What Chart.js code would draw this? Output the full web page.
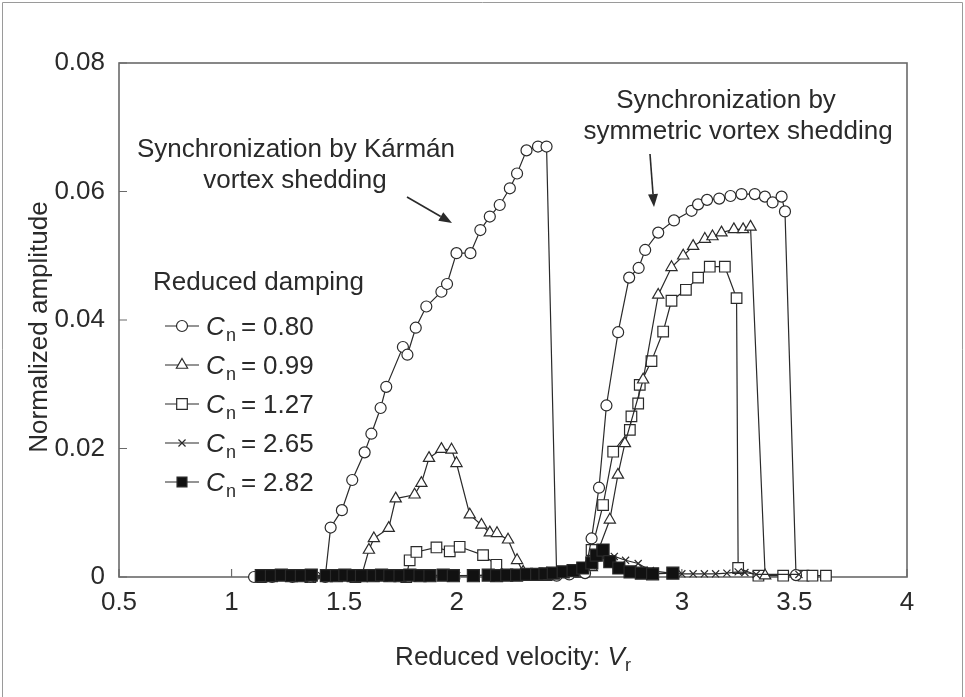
<!DOCTYPE html>
<html>
<head>
<meta charset="utf-8">
<script src="https://cdn.jsdelivr.net/npm/chart.js@4.4.1/dist/chart.umd.min.js"></script>
<style>
  html, body { margin: 0; padding: 0; background: #fff; }
  #wrap { width: 965px; height: 697px; position: relative; }
</style>
</head>
<body>
<div id="wrap"><canvas id="chart" width="965" height="697"></canvas></div>
<script>
// tick labels
const xTicks = [0.5, 1, 1.5, 2, 2.5, 3, 3.5, 4];
const yTicks = [0, 0.02, 0.04, 0.06, 0.08];

// Cn = 0.80 (open circles)
const cn080X = [1.10, 1.18, 1.27, 1.35, 1.416, 1.44, 1.49, 1.536, 1.591, 1.621, 1.662, 1.687, 1.761, 1.781, 1.818, 1.865, 1.932, 1.957, 1.999, 2.061, 2.105, 2.147, 2.191, 2.236, 2.268, 2.310, 2.361, 2.399, 2.444, 2.50, 2.57, 2.599, 2.632, 2.665, 2.717, 2.766, 2.808, 2.837, 2.895, 2.965, 3.043, 3.072, 3.112, 3.166, 3.216, 3.265, 3.324, 3.369, 3.403, 3.443, 3.458, 3.507];
const cn080Y = [0, 0, 0, 0, 0, 0.0077, 0.0104, 0.0151, 0.0194, 0.0223, 0.0263, 0.0296, 0.0358, 0.0346, 0.0388, 0.0421, 0.0444, 0.0456, 0.0504, 0.0504, 0.0540, 0.0561, 0.0579, 0.0605, 0.0628, 0.0664, 0.0670, 0.0670, 0.0002, 0.0004, 0.0006, 0.0060, 0.0139, 0.0267, 0.0381, 0.0466, 0.0481, 0.0509, 0.0536, 0.0555, 0.0570, 0.0580, 0.0587, 0.0589, 0.0593, 0.0596, 0.0596, 0.0592, 0.0583, 0.0592, 0.0569, 0.0003];

// Cn = 0.99 (open triangles)
const cn099X = [1.15, 1.30, 1.45, 1.576, 1.610, 1.632, 1.698, 1.729, 1.813, 1.843, 1.877, 1.932, 1.977, 1.999, 2.058, 2.110, 2.147, 2.179, 2.228, 2.268, 2.295, 2.40, 2.50, 2.60, 2.680, 2.716, 2.747, 2.828, 2.895, 2.954, 3.006, 3.050, 3.102, 3.136, 3.176, 3.231, 3.272, 3.305, 3.370];
const cn099Y = [0, 0, 0, 0, 0.0042, 0.0060, 0.0076, 0.0122, 0.0128, 0.0146, 0.0185, 0.0199, 0.0198, 0.0177, 0.0097, 0.0081, 0.0069, 0.0068, 0.0058, 0.0026, 0.0008, 0.0005, 0.0008, 0.0015, 0.0089, 0.0159, 0.0208, 0.0307, 0.0439, 0.0482, 0.0500, 0.0515, 0.0526, 0.0530, 0.0536, 0.0541, 0.0541, 0.0545, 0.0002];

// Cn = 1.27 (open squares)
const cn127X = [1.13, 1.35, 1.55, 1.776, 1.791, 1.821, 1.910, 1.969, 2.013, 2.117, 2.176, 2.24, 2.40, 2.55, 2.599, 2.650, 2.695, 2.769, 2.776, 2.806, 2.813, 2.865, 2.917, 2.954, 3.018, 3.072, 3.124, 3.191, 3.243, 3.250, 3.340, 3.450, 3.540, 3.580, 3.640];
const cn127Y = [0, 0, 0, 0, 0.0026, 0.0039, 0.0046, 0.0040, 0.0047, 0.0034, 0.0019, 0.0003, 0.0003, 0.0008, 0.0042, 0.0112, 0.0195, 0.0229, 0.0250, 0.0270, 0.0299, 0.0336, 0.0382, 0.0430, 0.0447, 0.0466, 0.0483, 0.0483, 0.0434, 0.0014, 0.0002, 0.0002, 0.0002, 0.0002, 0.0002];

// Cn = 2.65 (crosses)
const cn265X = [1.14, 1.40, 1.70, 2.00, 2.30, 2.50, 2.60, 2.65, 2.70, 2.75, 2.806, 2.86, 2.95, 3.00, 3.05, 3.10, 3.15, 3.20, 3.25, 3.28, 3.33, 3.52];
const cn265Y = [0.0002, 0.0002, 0.0002, 0.0002, 0.0003, 0.0010, 0.0018, 0.0030, 0.0032, 0.0026, 0.0021, 0.0010, 0.0006, 0.0005, 0.0005, 0.0005, 0.0005, 0.0006, 0.0008, 0.0007, 0.0004, 0.0004];

// Cn = 2.82 (filled squares)
const cn282X = [1.132, 1.177, 1.221, 1.266, 1.310, 1.354, 1.421, 1.466, 1.503, 1.540, 1.577, 1.629, 1.666, 1.703, 1.748, 1.792, 1.837, 1.881, 1.940, 1.985, 2.074, 2.140, 2.177, 2.222, 2.266, 2.310, 2.355, 2.392, 2.429, 2.473, 2.517, 2.56, 2.60, 2.62, 2.65, 2.68, 2.72, 2.77, 2.82, 2.87, 2.96];
const cn282Y = [0.0002, 0.0002, 0.0003, 0.0002, 0.0002, 0.0003, 0.0002, 0.0002, 0.0003, 0.0002, 0.0002, 0.0002, 0.0003, 0.0002, 0.0002, 0.0003, 0.0002, 0.0002, 0.0003, 0.0002, 0.0002, 0.0003, 0.0002, 0.0003, 0.0003, 0.0004, 0.0004, 0.0005, 0.0006, 0.0008, 0.0010, 0.0014, 0.0022, 0.0034, 0.0042, 0.0024, 0.0014, 0.0008, 0.0006, 0.0005, 0.0006];

const legendValues = ['0.80', '0.99', '1.27', '2.65', '2.82'];

const FONT = '"Liberation Sans", Arial, Helvetica, sans-serif';
const INK = '#2a2a2a';

const pts = (xs, ys) => xs.map((x, i) => ({ x: x, y: ys[i] }));

const styles = [
  { pointStyle: 'circle', pointRadius: 5.5, pointBackgroundColor: '#fff' },
  { pointStyle: 'triangle', pointRadius: 6.5, pointBackgroundColor: '#fff' },
  { pointStyle: 'rect', pointRadius: 7.5, pointBackgroundColor: '#fff' },
  { pointStyle: 'crossRot', pointRadius: 5, pointBackgroundColor: '#fff' },
  { pointStyle: 'rect', pointRadius: 8.5, pointBackgroundColor: '#111' }
];

function makeSet(label, xs, ys, st, order) {
  return Object.assign({
    label: label,
    data: pts(xs, ys),
    borderColor: INK,
    borderWidth: 1.2,
    pointBorderColor: INK,
    pointBorderWidth: 1.2,
    tension: 0,
    clip: false,
    order: order
  }, st);
}

function drawArrow(ctx, x1, y1, x2, y2) {
  const a = Math.atan2(y2 - y1, x2 - x1);
  const len = 13, half = 5;
  ctx.save();
  ctx.strokeStyle = INK;
  ctx.fillStyle = INK;
  ctx.lineWidth = 1.6;
  ctx.beginPath();
  ctx.moveTo(x1, y1);
  ctx.lineTo(x2 - len * Math.cos(a), y2 - len * Math.sin(a));
  ctx.stroke();
  ctx.beginPath();
  ctx.moveTo(x2, y2);
  ctx.lineTo(x2 - len * Math.cos(a) + half * Math.sin(a), y2 - len * Math.sin(a) - half * Math.cos(a));
  ctx.lineTo(x2 - len * Math.cos(a) - half * Math.sin(a), y2 - len * Math.sin(a) + half * Math.cos(a));
  ctx.closePath();
  ctx.fill();
  ctx.restore();
}

const decor = {
  id: 'decor',
  beforeDatasetsDraw(chart) {
    const { ctx, chartArea: a, scales } = chart;
    ctx.save();
    ctx.strokeStyle = '#6a6a6a';
    ctx.lineWidth = 1.6;
    ctx.strokeRect(a.left, a.top, a.right - a.left, a.bottom - a.top);
    ctx.lineWidth = 1.2;
    ctx.beginPath();
    xTicks.forEach(v => {
      const px = scales.x.getPixelForValue(v);
      ctx.moveTo(px, a.bottom);
      ctx.lineTo(px, a.bottom - 8);
    });
    yTicks.forEach(v => {
      const py = scales.y.getPixelForValue(v);
      ctx.moveTo(a.left, py);
      ctx.lineTo(a.left + 8, py);
    });
    ctx.stroke();
    ctx.restore();
  },
  afterDraw(chart) {
    const { ctx, chartArea: a } = chart;
    ctx.save();
    ctx.fillStyle = INK;
    ctx.textBaseline = 'alphabetic';

    // page frame
    ctx.strokeStyle = '#9a9a9a';
    ctx.lineWidth = 1;
    ctx.beginPath();
    ctx.moveTo(2.5, 697);
    ctx.lineTo(2.5, 2.5);
    ctx.lineTo(962.5, 2.5);
    ctx.lineTo(962.5, 697);
    ctx.stroke();

    // axis titles
    ctx.font = '26px ' + FONT;
    const part1 = 'Reduced velocity: ';
    const w1 = ctx.measureText(part1).width;
    ctx.font = 'italic 26px ' + FONT;
    const wV = ctx.measureText('V').width;
    ctx.font = '18px ' + FONT;
    const wr = ctx.measureText('r').width;
    let tx = (a.left + a.right) / 2 - (w1 + wV + wr) / 2;
    ctx.font = '26px ' + FONT;
    ctx.textAlign = 'left';
    ctx.fillText(part1, tx, 665);
    ctx.font = 'italic 26px ' + FONT;
    ctx.fillText('V', tx + w1, 665);
    ctx.font = '18px ' + FONT;
    ctx.fillText('r', tx + w1 + wV, 671);

    ctx.save();
    ctx.translate(47, 327);
    ctx.rotate(-Math.PI / 2);
    ctx.font = '26px ' + FONT;
    ctx.textAlign = 'center';
    ctx.fillText('Normalized amplitude', 0, 0);
    ctx.restore();

    // annotations
    ctx.font = '26px ' + FONT;
    ctx.textAlign = 'center';
    ctx.fillText('Synchronization by Kármán', 296, 157);
    ctx.fillText('vortex shedding', 295, 188);
    ctx.fillText('Synchronization by', 726, 108);
    ctx.fillText('symmetric vortex shedding', 738, 139);
    drawArrow(ctx, 407, 197, 452, 223);
    drawArrow(ctx, 650, 154, 654, 207);

    // legend
    ctx.textAlign = 'left';
    ctx.font = '26px ' + FONT;
    ctx.fillText('Reduced damping', 153, 290);
    legendValues.forEach((val, i) => {
      const cy = 326 + i * 39;
      const ds = chart.data.datasets[i];
      ctx.strokeStyle = INK;
      ctx.lineWidth = 1.2;
      ctx.beginPath();
      ctx.moveTo(165, cy);
      ctx.lineTo(199, cy);
      ctx.stroke();
      ctx.fillStyle = ds.pointBackgroundColor;
      ctx.strokeStyle = INK;
      const r = i === 4 ? 7 : ds.pointRadius;
      Chart.helpers.drawPoint(ctx, { pointStyle: ds.pointStyle, radius: r, borderWidth: 1.2, rotation: 0 }, 182, cy);
      ctx.fillStyle = INK;
      const base = cy + 9;
      ctx.font = 'italic 26px ' + FONT;
      ctx.fillText('C', 206, base);
      ctx.font = '18px ' + FONT;
      ctx.fillText('n', 226, base + 6);
      ctx.font = '26px ' + FONT;
      ctx.fillText('=', 241, base);
      ctx.fillText(val, 263, base);
    });
    ctx.restore();
  }
};

const ctx = document.getElementById('chart').getContext('2d');
new Chart(ctx, {
  type: 'line',
  data: {
    datasets: [
      makeSet('Cn = 0.80', cn080X, cn080Y, styles[0], 2),
      makeSet('Cn = 0.99', cn099X, cn099Y, styles[1], 3),
      makeSet('Cn = 1.27', cn127X, cn127Y, styles[2], 4),
      makeSet('Cn = 2.65', cn265X, cn265Y, styles[3], 1),
      makeSet('Cn = 2.82', cn282X, cn282Y, styles[4], 0)
    ]
  },
  options: {
    responsive: false,
    animation: false,
    layout: { padding: { left: 0, right: 58, top: 63, bottom: 0 } },
    plugins: { legend: { display: false }, tooltip: { enabled: false } },
    scales: {
      x: {
        type: 'linear',
        min: 0.5,
        max: 4,
        afterBuildTicks: s => { s.ticks = xTicks.map(v => ({ value: v })); },
        afterFit: s => { s.height = 120; },
        grid: { display: false, drawTicks: false },
        border: { display: false },
        ticks: {
          autoSkip: false,
          maxRotation: 0,
          padding: 10,
          color: INK,
          font: { family: FONT, size: 26 },
          callback: v => String(v)
        }
      },
      y: {
        type: 'linear',
        min: 0,
        max: 0.08,
        afterBuildTicks: s => { s.ticks = yTicks.map(v => ({ value: v })); },
        afterFit: s => { s.width = 119; },
        grid: { display: false, drawTicks: false },
        border: { display: false },
        ticks: {
          padding: 14,
          color: INK,
          font: { family: FONT, size: 26 },
          callback: v => String(v)
        }
      }
    }
  },
  plugins: [decor]
});
</script>
</body>
</html>
